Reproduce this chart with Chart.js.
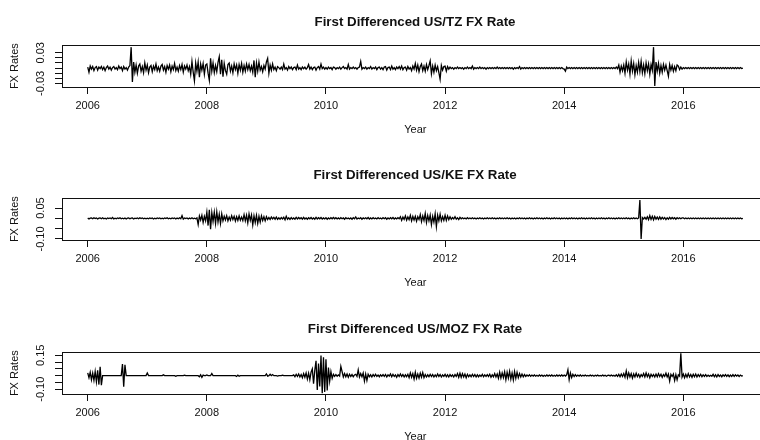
<!DOCTYPE html>
<html>
<head>
<meta charset="utf-8">
<script src="https://cdn.jsdelivr.net/npm/chart.js@4.4.0/dist/chart.umd.min.js"></script>
<style>
  html, body { margin: 0; padding: 0; background: #fff; overflow: hidden; }
  #wrap { position: relative; width: 760px; height: 440px; overflow: hidden; }
  canvas { position: absolute; left: 0; }
</style>
</head>
<body>
<div id="wrap">
  <canvas id="tz"  width="830" height="150" style="top:0px"></canvas>
  <canvas id="ke"  width="830" height="150" style="top:153px"></canvas>
  <canvas id="moz" width="830" height="150" style="top:307px"></canvas>
</div>
<script>
/* ── First differenced FX rates (four samples per month) ── */
const START_YEAR = 2006;
const STEP = 1 / 48;
const YEAR_TICKS = [2006, 2008, 2010, 2012, 2014, 2016];

// US/TZ — one row per year, 2006 .. 2016, then 2017.0
const TZ_VALUES = [
  .002,-.008,.004,-.002,.003,-.005,.001,.003,-.004,.002,-.001,.003, -.003,.002,-.005,.001,.004,-.002,.002,-.004,.001,.003,-.002,.001, -.003,.004,-.001,.002,-.005,.003,-.002,.001,-.004,.002,.005,.041, -.027,.012,-.008,.006,-.010,.004,.008,-.006,.003,-.009,.010,-.004,
  .006,-.009,.002,.005,-.007,.004,-.003,.008,-.005,.002,-.006,.004, .007,-.004,.003,-.008,.005,-.002,.006,-.007,.004,-.003,.009,-.005, .002,-.006,.005,-.003,.007,-.008,.004,-.002,.006,-.005,.003,-.012, .013,-.008,-.025,.010,-.006,.012,-.018,.008,-.004,.009,-.012,.006,
  .008,-.010,-.024,.019,-.006,.010,-.009,.005,-.007,.011,.022,-.012, .016,-.017,.009,-.005,-.012,.007,.010,-.006,.004,-.009,.008,-.003, .006,-.010,.007,-.004,.009,-.008,.005,-.006,.008,-.003,.007,-.005, .004,-.008,.015,-.018,.010,-.006,.012,-.004,.003,-.007,.005,-.002,
  .012,.019,-.010,.006,-.004,.008,-.003,.002,-.005,.003,.001,-.002, .002,-.003,.008,-.002,.001,-.004,.003,-.001,.002,-.003,.001,.002, -.003,.006,-.002,.001,-.003,.002,-.001,.002,-.002,.001,.007,-.002, .002,-.003,.001,.002,-.004,.001,.003,-.002,.008,-.001,.002,-.002,
  .001,-.002,.002,-.001,.001,-.003,.002,.001,-.002,.001,-.001,.002, -.002,.001,.003,-.001,.001,-.002,.007,-.002,.001,-.001,.002,-.001, .001,-.002,.001,.002,.013,-.002,.001,-.001,.002,-.002,.001,-.001, .003,-.002,.001,-.001,.002,-.003,.001,.002,-.002,.001,-.003,.002,
  .003,-.004,.001,.002,-.003,.004,-.002,.001,-.003,.002,-.001,.003, -.002,.004,-.003,.001,.002,-.004,.003,-.002,.001,-.005,.004,-.002, .009,-.004,.006,-.007,.003,.008,-.005,.004,-.006,.007,-.003,.005, .014,-.011,.004,-.008,.006,-.005,.003,-.009,-.022,.005,-.004,.003,
  .004,-.006,.003,-.002,.002,-.001,.001,-.002,.001,-.001,.002,-.001, .001,-.001,.001,-.002,.001,-.001,.002,-.001,.001,-.001,.004,-.002, .001,-.001,.001,-.001,.002,-.001,.001,-.001,.001,-.002,.001,-.001, .001,-.001,.001,-.001,.001,-.001,.002,-.001,.001,-.001,.001,-.001,
  .001,-.001,.001,-.001,.001,-.001,.001,-.002,.001,-.001,.001,-.001, .003,-.002,.001,-.001,.001,-.001,.001,-.001,.001,-.001,.001,-.001, .001,-.001,.001,-.001,.001,-.001,.001,-.001,.001,-.001,.001,-.001, .001,-.001,.001,-.001,.001,-.001,.001,-.001,.001,-.001,.001,-.001,
  -.002,-.006,.002,-.001,.001,-.001,.001,-.001,.001,-.001,.001,-.001, .001,-.001,.001,-.001,.001,-.001,.001,-.001,.001,-.001,.001,-.001, .001,-.001,.001,-.001,.001,-.001,.001,-.001,.001,-.001,.001,-.001, .001,-.001,.001,-.001,.001,-.001,.002,-.001,.006,-.008,.004,-.005,
  .006,-.010,.012,-.004,.008,-.012,.014,-.006,.009,-.013,.005,-.008, .011,-.007,.013,-.009,.006,-.011,.010,-.005,.008,-.012,.007,-.004, .041,-.035,.012,-.006,.009,-.010,.005,-.008,.007,-.004,.006,-.005, -.016,.007,-.004,.005,-.006,.003,-.005,.006,.004,-.003,.002,-.002,
  .001,-.001,.001,-.001,.001,-.001,.001,-.001,.001,-.001,.001,-.001, .001,-.001,.001,-.001,.001,-.001,.001,-.001,.001,-.001,.001,-.001, .001,-.001,.001,-.001,.001,-.001,.001,-.001,.001,-.001,.001,-.001, .001,-.001,.001,-.001,.001,-.001,.001,-.001,.001,-.001,.001,-.001,
  0
];
const TZ_TICKS = [-0.03, -0.02, -0.01, 0, 0.01, 0.02, 0.03];
const TZ_LABELS = ['-0.03', '', '', '', '', '', '0.03'];

// US/KE
const KE_VALUES = [
  .002,-.003,.001,.002,-.002,.003,-.001,.002,-.003,.001,.002,-.002, .003,-.002,.001,-.003,.002,-.001,.002,-.002,.004,-.003,.001,-.002, .002,-.001,.003,-.002,.001,-.002,.002,-.003,.001,.002,-.002,.001, .002,-.003,.001,-.001,.002,-.002,.003,-.001,.002,-.002,.001,-.002,
  .001,-.002,.002,-.001,.002,-.003,.001,-.002,.002,-.001,.002,-.002, .001,-.002,.002,-.001,.003,-.002,.001,-.002,.002,-.001,.002,-.003, .002,-.002,.003,-.002,.013,-.004,.002,-.001,.002,-.003,.002,-.002, .003,-.002,.001,-.002,.002,-.030,.012,-.008,.015,-.020,.010,-.012,
  .030,-.035,.041,-.053,.028,-.015,.030,-.025,.032,-.018,.020,-.025, .022,-.012,.010,-.008,.013,-.012,.006,-.009,.013,-.006,.010,-.013, .008,-.010,.012,-.009,.006,-.011,.018,-.012,.015,-.022,.021,-.010, .016,-.032,.012,-.020,.015,-.025,.010,-.018,.012,-.010,.008,-.012,
  .008,-.006,.004,-.005,.006,-.003,.005,-.004,.006,-.005,.003,-.004, .004,-.003,.005,-.007,.010,-.004,.003,-.005,.004,-.003,.002,-.004, .005,-.003,.004,-.002,.003,-.004,.005,-.003,.002,-.004,.003,-.002, .004,-.003,.002,-.004,.005,-.003,.003,-.002,.004,-.003,.002,-.003,
  .003,-.004,.002,-.003,.003,-.002,.004,-.002,.003,-.003,.002,-.003, .003,-.002,.002,-.004,.003,-.002,.002,-.003,.002,-.004,.003,-.002, .007,-.003,.002,-.002,.003,-.004,.002,-.002,.003,-.002,.004,-.003, .002,-.003,.003,-.002,.002,-.003,.003,-.002,.002,-.003,.003,-.002,
  .003,-.004,.002,-.003,.003,-.002,.004,-.003,.002,-.003,.003,-.002, .008,-.010,.006,-.005,.012,-.009,.007,-.006,.015,-.012,.009,-.008, .010,-.014,.008,-.006,.018,-.016,.012,-.010,.024,-.020,.014,-.012, .016,-.030,.010,-.018,.022,-.040,.015,-.012,.020,-.012,.008,-.010,
  .015,-.010,.012,-.006,.008,-.004,.004,-.003,.008,-.004,.003,-.006, .005,-.002,.003,-.002,.002,-.003,.003,-.002,.002,-.002,.003,-.002, .002,-.003,.002,-.002,.003,-.002,.002,-.003,.002,-.002,.003,-.002, .002,-.002,.003,-.002,.002,-.003,.002,-.002,.003,-.002,.002,-.002,
  .002,-.002,.003,-.002,.002,-.003,.002,-.002,.002,-.003,.002,-.002, .003,-.002,.002,-.002,.002,-.003,.002,-.002,.003,-.002,.002,-.003, .002,-.002,.003,-.002,.002,-.002,.002,-.003,.002,-.002,.003,-.002, .002,-.003,.002,-.002,.003,-.002,.002,-.002,.002,-.003,.002,-.002,
  .002,-.002,.002,-.003,.002,-.002,.003,-.002,.002,-.002,.002,-.003, .002,-.002,.003,-.002,.002,-.003,.002,-.002,.002,-.002,.003,-.002, .002,-.003,.002,-.002,.002,-.002,.003,-.002,.002,-.003,.002,-.002, .003,-.002,.002,-.002,.002,-.003,.002,-.002,.003,-.002,.002,-.002,
  .002,-.002,.003,-.002,.002,-.003,.002,-.002,.003,-.002,.002,-.002, .002,.089,-.100,.004,-.003,.005,-.004,.008,-.006,.013,-.005,.010, -.007,.009,-.004,.006,-.005,.007,-.004,.005,-.003,.004,-.006,.003, -.004,.005,-.003,.004,-.002,.003,-.004,.003,-.002,.003,-.002,.002,
  .002,-.002,.002,-.002,.002,-.002,.002,-.002,.002,-.002,.002,-.002, .002,-.002,.002,-.002,.002,-.002,.002,-.002,.002,-.002,.002,-.002, .002,-.002,.002,-.002,.002,-.002,.002,-.002,.002,-.002,.002,-.002, .002,-.002,.002,-.002,.002,-.002,.002,-.002,.002,-.002,.002,-.002,
  0
];
const KE_TICKS = [-0.10, -0.05, 0, 0.05];
const KE_LABELS = ['-0.10', '', '', '0.05'];

// US/MOZ
const MOZ_VALUES = [
  .020,-.015,.025,-.030,.018,-.035,.030,-.045,.040,-.066,.066,-.070, 0,0,0,0,0,0,0,0,0,0,0,0, 0,0,0,0,.085,-.082,.080,0,0,0,0,0, 0,0,0,0,0,0,0,0,0,0,0,0,
  .020,0,0,0,0,0,0,0,0,0,0,0, 0,.006,0,0,0,0,0,0,0,0,0,-.005, 0,0,0,0,0,0,.004,0,0,0,0,0, 0,0,0,0,0,0,-.008,.006,-.012,.004,0,0,
  .005,0,0,0,.015,0,0,0,0,0,0,0, 0,0,0,0,0,0,0,0,0,0,0,0, -.006,.004,-.004,0,0,0,0,0,0,0,0,0, 0,0,0,0,0,0,0,0,0,0,0,0,
  .012,-.004,0,.010,0,.008,0,0,0,-.003,0,0, 0,.004,0,0,0,0,0,0,0,0,.006,-.008, .010,-.006,.012,-.010,.008,-.015,.015,-.012,.020,-.025,.018,-.030, .025,.050,-.060,.040,.110,-.105,.090,-.080,.148,-.130,.135,-.120,
  .120,-.110,.060,-.040,.030,-.020,.010,-.005,.008,-.004,.006,-.003, .068,.030,-.010,.015,-.008,.012,-.012,.010,-.006,.008,-.008,.005, .010,-.006,.043,-.010,.015,-.008,.020,-.040,.012,-.035,.010,-.008, .006,-.010,.008,-.005,.010,-.006,.005,-.008,.006,-.004,.008,-.005,
  .008,-.010,.006,-.004,.012,-.008,.010,-.006,.005,-.012,.008,-.006, .012,-.006,.008,-.010,.006,-.008,.010,-.015,.020,-.012,.015,-.025, .025,-.020,.012,-.018,.018,-.012,.022,-.015,.008,-.010,.006,-.008, .010,-.006,.008,-.010,.005,-.008,.012,-.006,.008,-.010,.006,-.005,
  .010,-.008,.006,-.010,.008,-.005,.006,-.010,.008,-.006,.015,-.012, .018,-.012,.015,-.010,.012,-.015,.010,-.008,.006,-.008,.010,-.006, .008,-.010,.006,-.008,.005,-.006,.010,-.008,.006,-.005,.008,-.006, .010,-.012,.006,-.008,.015,-.010,.012,-.020,.025,-.018,.020,-.015,
  .028,-.030,.025,-.018,.032,-.025,.020,-.032,.030,-.020,.025,-.015, .015,-.010,.012,-.008,.008,-.006,.005,-.004,.006,-.005,.004,-.003, .005,-.004,.003,-.004,.005,-.003,.004,-.005,.003,-.004,.005,-.003, .004,-.003,.005,-.004,.003,-.004,.005,-.003,.004,-.003,.005,-.003,
  .004,-.003,.006,.043,-.030,.020,-.015,.010,-.006,.008,-.005,.004, -.003,.005,-.004,.003,-.002,.004,-.003,.002,-.003,.004,-.002,.003, -.004,.003,-.002,.004,-.003,.002,-.003,.004,-.002,.003,-.004,.002, .003,-.002,.004,-.003,.002,-.004,.006,-.005,.010,-.008,.012,-.006,
  .015,-.012,.035,-.015,.020,-.010,.015,-.018,.012,-.010,.018,-.008, .010,-.012,.008,-.006,.015,-.010,.020,-.008,.012,-.015,.010,-.006, .008,-.010,.012,-.008,.015,-.006,.010,-.012,.008,-.005,.018,-.010, .012,-.040,.010,-.006,.012,-.035,.008,-.030,.006,-.004,.165,-.010,
  .012,-.015,.010,-.012,.015,-.010,.008,-.012,.010,-.008,.012,-.010, .008,-.006,.010,-.008,.006,-.005,.008,-.006,.004,-.005,.003,-.004, .010,-.008,.006,-.010,.008,-.006,.005,-.008,.006,-.004,.008,-.005, .006,-.008,.004,-.006,.008,-.005,.006,-.004,.005,-.006,.004,-.003,
  0
];
const MOZ_TICKS = [-0.10, -0.05, 0, 0.05, 0.10, 0.15];
const MOZ_LABELS = ['-0.10', '', '', '', '', '0.15'];

// ── look ─────────────────────────────────────────────────────────────────────
const INK = '#111';
const FONT = "'Liberation Sans', Arial, sans-serif";
const X_MIN = 2005.568;   // R-style 4% padding round 2006..2017
const X_MAX = 2017.432;

// R draws a full box round the plot region
const boxPlugin = {
  id: 'box',
  afterDraw(chart) {
    const { ctx, chartArea: a } = chart;
    ctx.save();
    ctx.strokeStyle = INK;
    ctx.lineWidth = 1;
    ctx.strokeRect(Math.round(a.left) + 0.5, Math.round(a.top) + 0.5,
                   Math.round(a.right - a.left), Math.round(a.bottom - a.top));
    ctx.restore();
  }
};

function makePanel(id, title, values, yMin, yMax, yTicks, yLabels) {
  const points = values.map((v, i) => ({ x: START_YEAR + i * STEP, y: v }));
  return new Chart(document.getElementById(id), {
    type: 'line',
    data: {
      datasets: [{
        data: points,
        borderColor: '#000',
        borderWidth: 1.3,
        pointRadius: 0,
        tension: 0,
        fill: false,
      }],
    },
    options: {
      responsive: false,
      animation: false,
      devicePixelRatio: 1,
      layout: { padding: 0 },
      plugins: {
        legend: { display: false },
        tooltip: { enabled: false },
        title: {
          display: true,
          text: title,
          color: INK,
          font: { family: FONT, size: 13.3, weight: 'bold' },
          padding: { top: 14, bottom: 15.4 },
        },
      },
      scales: {
        x: {
          type: 'linear',
          min: X_MIN,
          max: X_MAX,
          afterBuildTicks: s => { s.ticks = YEAR_TICKS.map(v => ({ value: v })); },
          afterFit: s => { s.height = 63; },
          grid: { display: true, drawOnChartArea: false, drawTicks: true, tickLength: 7, tickColor: INK, lineWidth: 1 },
          border: { display: false },
          ticks: {
            autoSkip: false, minRotation: 0, maxRotation: 0, padding: 5.7,
            color: INK, font: { family: FONT, size: 11 },
            callback: v => String(v),
          },
          title: {
            display: true, text: 'Year', color: INK,
            font: { family: FONT, size: 11 },
            padding: { top: 0, bottom: 13.4 },
          },
        },
        y: {
          type: 'linear',
          position: 'left',
          min: yMin,
          max: yMax,
          afterBuildTicks: s => { s.ticks = yTicks.map(v => ({ value: v })); },
          afterFit: s => { s.width = 62; },
          grid: { display: true, drawOnChartArea: false, drawTicks: true, tickLength: 7, tickColor: INK, lineWidth: 1 },
          border: { display: false },
          ticks: {
            autoSkip: false, minRotation: 90, maxRotation: 90,
            crossAlign: 'center', padding: 1.5,
            color: INK, font: { family: FONT, size: 11 },
            callback: (v, i) => yLabels[i],
          },
          title: {
            display: true, text: 'FX Rates', color: INK,
            font: { family: FONT, size: 11 },
            padding: { top: 8.4, bottom: 0 },
          },
        },
        // empty right gutter so the title centres over the plot region like R
        pad: {
          type: 'linear',
          position: 'right',
          display: true,
          grid: { display: false },
          border: { display: false },
          ticks: { display: false },
          afterFit: s => { s.width = 61.4; },
        },
      },
    },
    plugins: [boxPlugin],
  });
}

makePanel('tz',  'First Differenced US/TZ FX Rate',  TZ_VALUES,  -0.037, 0.0445, TZ_TICKS,  TZ_LABELS);
makePanel('ke',  'First Differenced US/KE FX Rate',  KE_VALUES,  -0.105, 0.097,  KE_TICKS,  KE_LABELS);
makePanel('moz', 'First Differenced US/MOZ FX Rate', MOZ_VALUES, -0.1356, 0.172, MOZ_TICKS, MOZ_LABELS);
</script>
</body>
</html>
